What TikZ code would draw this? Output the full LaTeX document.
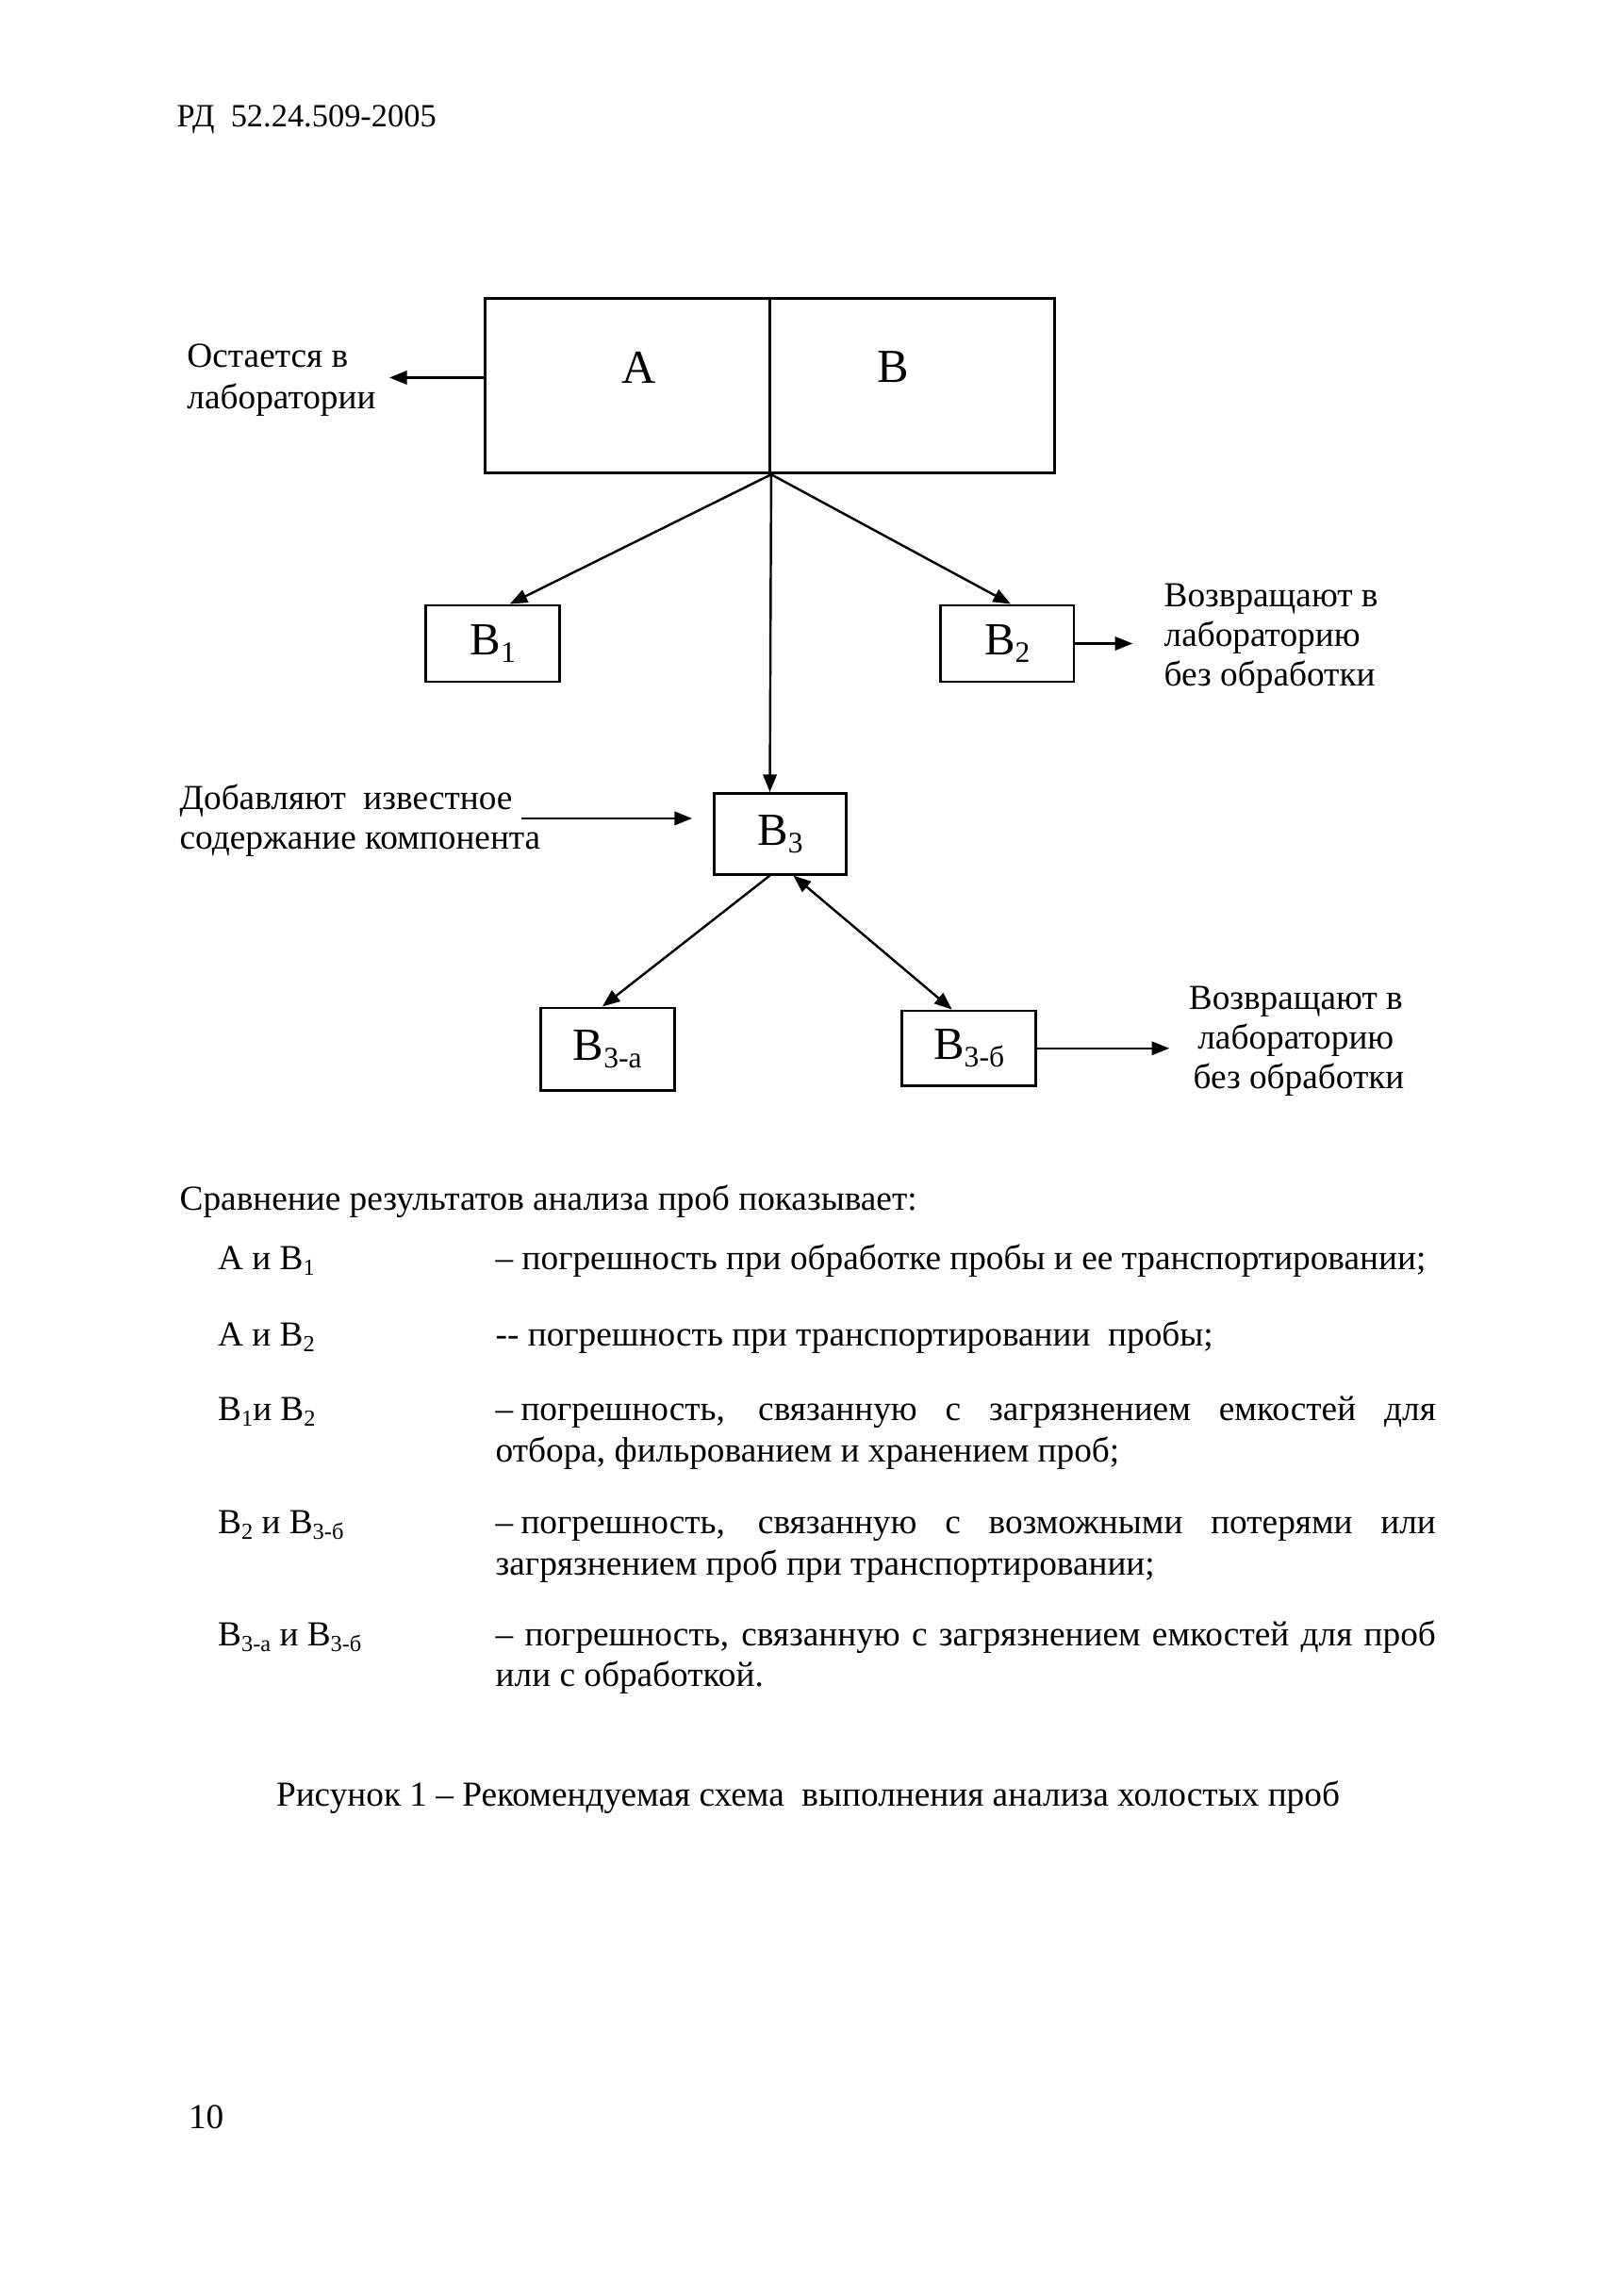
\documentclass[tikz,border=0pt]{standalone}
\usepackage{fontspec}
\setmainfont{Liberation Serif}
\usetikzlibrary{arrows.meta,calc}
\newcommand\lsub[2]{\raisebox{-0.35ex}{\fontsize{#1}{#1}\selectfont #2}}
\def\un{0.1909mm}
\begin{document}
\begin{tikzpicture}[x=0.1909mm,y=-0.1909mm,
  body/.style={font=\fontsize{13}{14.6}\selectfont, inner sep=0, anchor=base west},
  box/.style={draw, line width=1pt, inner sep=0, font=\fontsize{17}{17}\selectfont},
  big/.style={inner sep=0, font=\fontsize{17.5}{17.5}\selectfont},
  arr/.style={line width=0.85pt, -{Triangle[length=6.5pt,width=5pt]}},
  darr/.style={line width=0.85pt, {Triangle[length=6.5pt,width=5pt]}-{Triangle[length=6.5pt,width=5pt]}},
]
\useasboundingbox (0,0) rectangle (1100,1562.7);
\fill[white] (0,0) rectangle (1100,1562.7);

\node[body, font=\fontsize{12}{14}\selectfont] (hdr) at (120,86) {РД\ \ 52.24.509-2005};

% boxes
\node[box, minimum width={194*\un}, minimum height={119*\un}] (boxA) at (427,262.5) {};
\node[box, minimum width={194*\un}, minimum height={119*\un}] (boxB) at (621,262.5) {};
\node[big] (labA) at (435,250) {А};
\node[big] (labB) at (608,250) {В};
\node[box, minimum width={91*\un}, minimum height={52*\un}] (B1) at (335.5,438) {В\lsub{11}{1}};
\node[box, minimum width={91*\un}, minimum height={52*\un}] (B2) at (685.5,438) {В\lsub{11}{2}};
\node[box, minimum width={90*\un}, minimum height={55*\un}] (B3) at (531,567.5) {В\lsub{11}{3}};
\node[box, minimum width={91*\un}, minimum height={56*\un}] (B3a) at (413.5,714) {В\lsub{11}{3-а}};
\node[box, minimum width={91*\un}, minimum height={51*\un}] (B3b) at (659.5,713.5) {В\lsub{11}{3-б}};

% side labels
\node[body] (ost1) at (127,250) {Остается в};
\node[body] (ost2) at (127,278) {лаборатории};
\node[body] (vz1) at (792,413) {Возвращают в};
\node[body] (vz2) at (792,440) {лабораторию};
\node[body] (vz3) at (792,467) {без обработки};
\node[body] (add1) at (122,551) {Добавляют\ \ известное};
\node[body] (add2) at (122,578) {содержание компонента};
\node[body, anchor=base] (vy1) at (882,687) {Возвращают в};
\node[body, anchor=base] (vy2) at (882,714) {лабораторию};
\node[body, anchor=base] (vy3) at (884,741) {без обработки};

% connectors
\coordinate (J) at (boxA.south east);
\draw[arr] (J) -- ($(B1.north)+(11.5,0)$);
\draw[arr] (J) -- ($(B2.north)+(2.5,0)$);
\draw[arr] (J) -- ($(B3.north)+(-7,0)$);
\draw[arr] ($(B3.south)+(-7,0)$) -- ($(B3a.north)+(-3.5,0)$);
\draw[darr] ($(B3.south)+(9,0)$) -- ($(B3b.north)+(-11.5,0)$);
\coordinate (r2) at ($(B2.east)+(39,0)$);
\draw[arr] (B2.east) -- (r2);
\coordinate (r3) at ($(B3b.east)+(90,0)$);
\draw[arr] (B3b.east) -- (r3);
\coordinate (lA) at (265,257);
\draw[arr] (boxA.west |- lA) -- (lA);
\coordinate (addS) at (355,557);
\draw[arr] (addS) -- ($(B3.west |- addS)+(-14,0)$);

% comparison text
\node[body] (cmp) at (122,824) {Сравнение результатов анализа проб показывает:};
\node[body] (p1) at (148,864) {А и В\lsub{8.5}{1}};
\node[body] (q1) at (337,864) {– погрешность при обработке пробы и ее транспортировании;};
\node[body] (p2) at (148,916) {А и В\lsub{8.5}{2}};
\node[body] (q2) at (337,916) {-{}- погрешность при транспортировании\ \ пробы;};
\node[body] (p3) at (148,967) {В\lsub{8.5}{1}и В\lsub{8.5}{2}};
\node[body] (q3a) at (337,967) {\makebox[122.18mm][s]{–\hspace{0.22em}погрешность, связанную с загрязнением емкостей для}};
\node[body] (q3b) at (337,995) {отбора, фильрованием и хранением проб;};
\node[body] (p4) at (148,1044) {В\lsub{8.5}{2} и В\lsub{8.5}{3-б}};
\node[body] (q4a) at (337,1044) {\makebox[122.18mm][s]{–\hspace{0.22em}погрешность, связанную с возможными потерями или}};
\node[body] (q4b) at (337,1072) {загрязнением проб при транспортировании;};
\node[body] (p5) at (148,1120) {В\lsub{8.5}{3-а} и В\lsub{8.5}{3-б}};
\node[body] (q5a) at (337,1120) {\makebox[122.18mm][s]{– погрешность, связанную с загрязнением емкостей для проб}};
\node[body] (q5b) at (337,1148) {или с обработкой.};

\node[body, anchor=base] (cap) at (550,1229) {Рисунок 1 – Рекомендуемая схема\ \ выполнения анализа холостых проб};
\node[body] (pg) at (128,1449) {10};
\end{tikzpicture}
\end{document}
